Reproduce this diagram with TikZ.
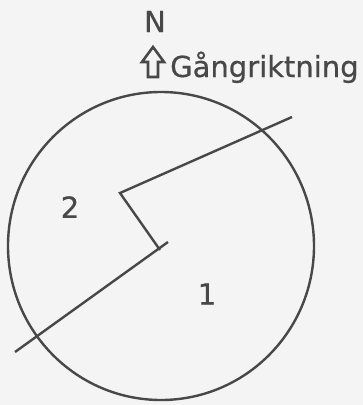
\documentclass[tikz,border=0pt]{standalone}
\usepackage{fontspec}
\setmainfont{DejaVu Sans}[FakeBold=0.6]
\definecolor{ink}{RGB}{72,72,72}
\definecolor{paper}{RGB}{244,244,244}
\tikzset{
  stroke/.style={draw=ink, line width=2.4pt, line join=miter},
  lbl/.style={text=ink, inner sep=0pt, font=\fontsize{29}{29}\selectfont},
}
\begin{document}
\begin{tikzpicture}[x=1pt,y=-1pt]
\fill[paper] (0,0) rectangle (363,405);
\useasboundingbox (0,0) rectangle (363,405);
% circle
\draw[stroke] (161,246) ellipse [x radius=153, y radius=154];
% lines
\coordinate (a1) at (292,117);
\coordinate (a2) at (120,193);
\coordinate (a3) at (160,250);
\coordinate (b1) at (15,352);
\coordinate (b2) at (168,242);
\draw[stroke] (a1) -- (a2) -- (a3);
\draw[stroke] (b1) -- (b2);
% labels
\node[lbl, anchor=base] (N) at (155,32) {N};
\node[lbl, anchor=base west] (G) at (170,77) {Gångriktning};
\node[lbl] (two) at (70,207) {2};
\node[lbl] (one) at (207,294) {1};
% arrow
\draw[draw=ink, line width=2.6pt, line join=miter]
  (153,47) -- (164,62) -- (158,62) -- (158,77) -- (148,77) -- (148,62) -- (142,62) -- cycle;
\end{tikzpicture}
\end{document}
